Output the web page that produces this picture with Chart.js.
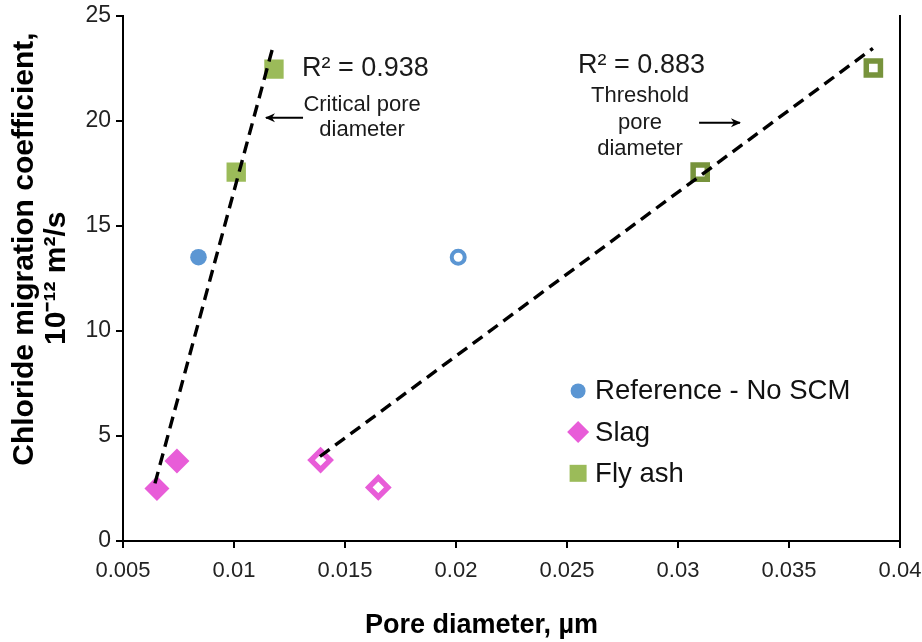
<!DOCTYPE html>
<html><head><meta charset="utf-8">
<script src="https://cdn.jsdelivr.net/npm/chart.js@4.4.1/dist/chart.umd.min.js"></script>
<style>html,body{margin:0;padding:0;background:#fff;} canvas{display:block;}</style>
</head><body>
<canvas id="c" width="922" height="642"></canvas>
<script>
// ---- data ----
const xTickValues = [0.005, 0.01, 0.015, 0.02, 0.025, 0.03, 0.035, 0.04];
const xTickLabels = ['0.005', '0.01', '0.015', '0.02', '0.025', '0.03', '0.035', '0.04'];
const yTickValues = [0, 5, 10, 15, 20, 25];

const refCriticalX = [0.0084];  const refCriticalY = [13.5];
const refThresholdX = [0.0201]; const refThresholdY = [13.5];
const slagCriticalX = [0.00653, 0.00743]; const slagCriticalY = [2.5, 3.8];
const slagThresholdX = [0.0139, 0.0165];  const slagThresholdY = [3.85, 2.55];
const flyCriticalX = [0.0101, 0.0118];    const flyCriticalY = [17.55, 22.45];
const flyThresholdX = [0.0310, 0.0388];   const flyThresholdY = [17.55, 22.5];

const trendCriticalX = [0.00644, 0.01176];  const trendCriticalY = [2.74, 23.53];
const trendThresholdX = [0.01387, 0.03878]; const trendThresholdY = [4.02, 23.44];

const legendLabels = ['Reference - No SCM', 'Slag', 'Fly ash'];
const r2Labels = ['R² = 0.938', 'R² = 0.883'];
const noteCritical = ['Critical pore', 'diameter'];
const noteThreshold = ['Threshold', 'pore', 'diameter'];
const xTitle = 'Pore diameter, µm';
const yTitle = ['Chloride migration coefficient,', '10⁻¹² m²/s'];

// ---- styles ----
const BLUE = '#5B96D3', PINK = '#E85DD8', GREEN = '#9BBB59', DKGREEN = '#77933C';
const FONT = "'Liberation Sans', Arial, Helvetica, sans-serif";

const pts = (xs, ys) => xs.map((x, i) => ({x, y: ys[i]}));

function markerSet(label, xs, ys, style, radius, bg, border, bw) {
  return {type: 'scatter', label, data: pts(xs, ys), pointStyle: style, pointRadius: radius,
    pointHoverRadius: radius, backgroundColor: bg, borderColor: border, borderWidth: bw,
    pointBorderWidth: bw, order: 2};
}
function trendSet(xs, ys) {
  return {type: 'line', data: pts(xs, ys), borderColor: '#000', borderWidth: 3.4,
    borderDash: [12, 7], pointRadius: 0, fill: false, tension: 0, order: 0};
}

const datasets = [
  trendSet(trendCriticalX, trendCriticalY),
  trendSet(trendThresholdX, trendThresholdY),
  markerSet('ref1', refCriticalX, refCriticalY, 'circle', 8.3, BLUE, BLUE, 0),
  markerSet('ref2', refThresholdX, refThresholdY, 'circle', 6.5, '#fff', BLUE, 4),
  markerSet('slag1', slagCriticalX, slagCriticalY, 'rectRot', 12.5, PINK, PINK, 0),
  markerSet('slag2', slagThresholdX, slagThresholdY, 'rectRot', 9.5, '#fff', PINK, 5.5),
  markerSet('fly1', flyCriticalX, flyCriticalY, 'rect', 13.7, GREEN, GREEN, 0),
  markerSet('fly2', flyThresholdX, flyThresholdY, 'rect', 10, '#fff', DKGREEN, 5.5),
];

// annotation anchors (data units)
const notePos = {
  r2a: {x: 0.01306, y: 22.5}, r2b: {x: 0.0255, y: 22.6},
  crit: {x: 0.01577, y: 20.75, step: 1.2},
  thr: {x: 0.02829, y: 21.15, step: 1.25},
  arrowA: {x1: 0.01311, x2: 0.01144, y: 20.13},
  arrowB: {x1: 0.03095, x2: 0.03279, y: 19.9},
  legend: {x: 0.0255, y: 7.14, step: 1.96}
};

function arrow(ctx, x1, y, x2) {
  ctx.save();
  ctx.strokeStyle = '#000'; ctx.fillStyle = '#000'; ctx.lineWidth = 2;
  ctx.beginPath(); ctx.moveTo(x1, y); ctx.lineTo(x2, y); ctx.stroke();
  const d = x2 > x1 ? 1 : -1;
  ctx.beginPath();
  ctx.moveTo(x2 + d * 1, y);
  ctx.lineTo(x2 - d * 9, y - 4.5);
  ctx.lineTo(x2 - d * 6, y);
  ctx.lineTo(x2 - d * 9, y + 4.5);
  ctx.closePath(); ctx.fill();
  ctx.restore();
}

const notesPlugin = {
  id: 'notes',
  afterDatasetsDraw(chart) {
    const {ctx} = chart; const xs = chart.scales.x, ys = chart.scales.y;
    const px = v => xs.getPixelForValue(v), py = v => ys.getPixelForValue(v);
    ctx.save();
    ctx.fillStyle = '#1a1a1a'; ctx.textBaseline = 'middle';
    ctx.font = `27px ${FONT}`; ctx.textAlign = 'left';
    ctx.fillText(r2Labels[0], px(notePos.r2a.x), py(notePos.r2a.y));
    ctx.fillText(r2Labels[1], px(notePos.r2b.x), py(notePos.r2b.y));
    ctx.font = `22px ${FONT}`; ctx.textAlign = 'center';
    noteCritical.forEach((t, i) => ctx.fillText(t, px(notePos.crit.x), py(notePos.crit.y - i * notePos.crit.step)));
    noteThreshold.forEach((t, i) => ctx.fillText(t, px(notePos.thr.x), py(notePos.thr.y - i * notePos.thr.step)));
    arrow(ctx, px(notePos.arrowA.x1), py(notePos.arrowA.y), px(notePos.arrowA.x2));
    arrow(ctx, px(notePos.arrowB.x1), py(notePos.arrowB.y), px(notePos.arrowB.x2));
    // legend
    const lx = px(notePos.legend.x);
    legendLabels.forEach((t, i) => {
      const cy = py(notePos.legend.y - i * notePos.legend.step);
      ctx.beginPath();
      if (i === 0) { ctx.fillStyle = BLUE; ctx.arc(lx, cy, 7.5, 0, Math.PI * 2); }
      else if (i === 1) { ctx.fillStyle = PINK; ctx.moveTo(lx - 11, cy); ctx.lineTo(lx, cy - 11); ctx.lineTo(lx + 11, cy); ctx.lineTo(lx, cy + 11); ctx.closePath(); }
      else { ctx.fillStyle = GREEN; ctx.rect(lx - 8.5, cy - 8.5, 17, 17); }
      ctx.fill();
      ctx.fillStyle = '#111'; ctx.font = `27.5px ${FONT}`; ctx.textAlign = 'left';
      ctx.fillText(t, lx + 17, cy + 1);
    });
    ctx.restore();
  }
};

new Chart(document.getElementById('c'), {
  data: {datasets},
  options: {
    responsive: false, animation: false, devicePixelRatio: 1,
    layout: {padding: {top: 12, left: 0, right: 0, bottom: 0}},
    plugins: {legend: {display: false}, tooltip: {enabled: false}},
    scales: {
      x: {
        type: 'linear', position: 'bottom', min: 0.005, max: 0.04,
        afterBuildTicks: s => { s.ticks = xTickValues.map(v => ({value: v})); },
        afterFit: s => { s.height = 101; s.paddingLeft = 0; s.paddingRight = 0; },
        ticks: {callback: (v, i) => xTickLabels[i], color: '#222', padding: 10,
          font: {family: FONT, size: 22}, maxRotation: 0, autoSkip: false},
        grid: {drawOnChartArea: false, drawTicks: true, tickLength: 7, color: '#000', lineWidth: 2},
        border: {display: true, color: '#000', width: 2},
        title: {display: true, text: xTitle + '\u00a0'.repeat(8), color: '#000',
          font: {family: FONT, size: 27, weight: 'bold'}, padding: {top: 0, bottom: 0}}
      },
      y: {
        type: 'linear', position: 'left', min: 0, max: 25,
        afterBuildTicks: s => { s.ticks = yTickValues.map(v => ({value: v})); },
        afterFit: s => { s.width = 123; s.paddingTop = 0; s.paddingBottom = 0; },
        ticks: {color: '#222', padding: 5, font: {family: FONT, size: 23}},
        grid: {drawOnChartArea: false, drawTicks: true, tickLength: 7, color: '#000', lineWidth: 2},
        border: {display: true, color: '#000', width: 2},
        title: {display: true, text: ['\u00a0'.repeat(7) + yTitle[0], yTitle[1]], color: '#000',
          font: {family: FONT, size: 30, weight: 'bold', lineHeight: 1.07}, padding: {top: 9, bottom: 0}}
      },
      y2: {
        type: 'linear', position: 'right', min: 0, max: 25, display: true,
        afterFit: s => { s.width = 22; },
        ticks: {display: false},
        grid: {display: false, drawTicks: false},
        border: {display: true, color: '#000', width: 2}
      }
    }
  },
  plugins: [notesPlugin]
});
</script>
</body></html>
